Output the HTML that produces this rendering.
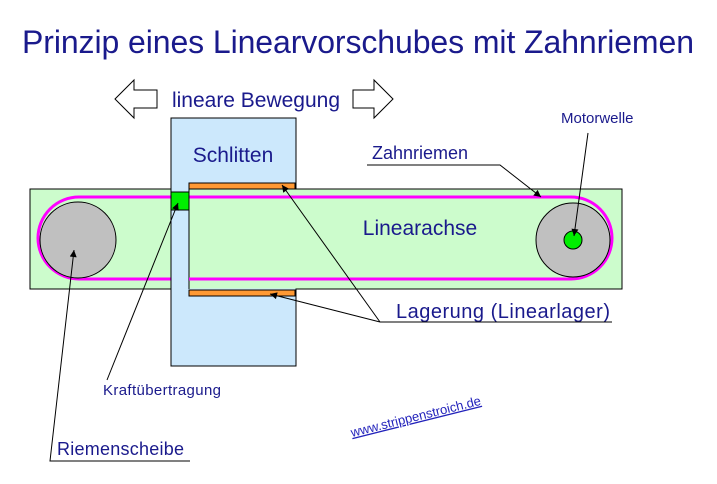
<!DOCTYPE html>
<html><head><meta charset="utf-8"><style>
html,body{margin:0;padding:0;background:#fff;}
svg{display:block;font-family:"Liberation Sans",Arial,sans-serif;}
</style></head><body>
<svg width="717" height="484" viewBox="0 0 717 484" xmlns="http://www.w3.org/2000/svg">
<defs>
<marker id="ah" viewBox="0 0 10 10" refX="10" refY="5" markerWidth="9" markerHeight="7" orient="auto" markerUnits="userSpaceOnUse"><path d="M0,0 L10,5 L0,10 z" fill="#000"/></marker>
</defs>
<text x="358" y="53" font-size="32" fill="#1a1a8c" text-anchor="middle" textLength="672">Prinzip eines Linearvorschubes mit Zahnriemen</text>
<path d="M115,99 L134,80 L134,90 L157,90 L157,108 L134,108 L134,118 Z" fill="#fff" stroke="#000"/>
<path d="M393,99 L374,80 L374,90 L353,90 L353,108 L374,108 L374,118 Z" fill="#fff" stroke="#000"/>
<text x="172" y="107" font-size="21" fill="#1a1a8c" textLength="168">lineare Bewegung</text>
<rect x="30" y="189" width="592" height="100" fill="#ccfccc" stroke="#000"/>
<rect x="38" y="197" width="574" height="82" rx="41" fill="none" stroke="#ff00ff" stroke-width="3"/>
<circle cx="78" cy="240" r="38" fill="#c0c0c0" stroke="#000"/>
<circle cx="573" cy="240" r="37" fill="#c0c0c0" stroke="#000"/>
<circle cx="573" cy="240" r="9" fill="#00ee00" stroke="#000"/>
<rect x="171" y="118" width="125" height="248" fill="#cce8fc" stroke="#000"/>
<rect x="189" y="189.5" width="108" height="99" fill="#ccfccc"/>
<line x1="189" y1="189" x2="189" y2="289" stroke="#000"/>
<line x1="189" y1="197" x2="297" y2="197" stroke="#ff00ff" stroke-width="3"/>
<line x1="189" y1="279" x2="297" y2="279" stroke="#ff00ff" stroke-width="3"/>
<rect x="189" y="183" width="106" height="6" fill="#ff9933" stroke="#000"/>
<rect x="189" y="290" width="106" height="6" fill="#ff9933" stroke="#000"/>
<rect x="171" y="192" width="18" height="18" fill="#00ee00" stroke="#000"/>
<text x="233" y="162" font-size="21" fill="#1a1a8c" text-anchor="middle">Schlitten</text>
<text x="420" y="235" font-size="21" fill="#1a1a8c" text-anchor="middle">Linearachse</text>
<text x="372" y="159" font-size="18" fill="#1a1a8c">Zahnriemen</text>
<polyline points="367,165 500,165 541,197" fill="none" stroke="#000" marker-end="url(#ah)"/>
<text x="561" y="123" font-size="15" fill="#1a1a8c">Motorwelle</text>
<line x1="588" y1="133" x2="574" y2="236" stroke="#000" marker-end="url(#ah)"/>
<text x="396" y="318" font-size="20" fill="#1a1a8c" textLength="214">Lagerung (Linearlager)</text>
<line x1="380" y1="322" x2="612" y2="322" stroke="#000"/>
<line x1="380" y1="322" x2="282" y2="185" stroke="#000" marker-end="url(#ah)"/>
<line x1="380" y1="322" x2="270" y2="294" stroke="#000" marker-end="url(#ah)"/>
<text x="103" y="395" font-size="15" fill="#1a1a8c" textLength="118">Kraftübertragung</text>
<line x1="107" y1="380" x2="178" y2="203" stroke="#000" marker-end="url(#ah)"/>
<text x="57" y="455" font-size="18" fill="#1a1a8c" textLength="127">Riemenscheibe</text>
<polyline points="190,461 50,461 74,250" fill="none" stroke="#000" marker-end="url(#ah)"/>
<text x="0" y="0" font-size="13" fill="#2222bb" text-decoration="underline" transform="translate(352,437) rotate(-14)">www.strippenstroich.de</text>
</svg>
</body></html>
